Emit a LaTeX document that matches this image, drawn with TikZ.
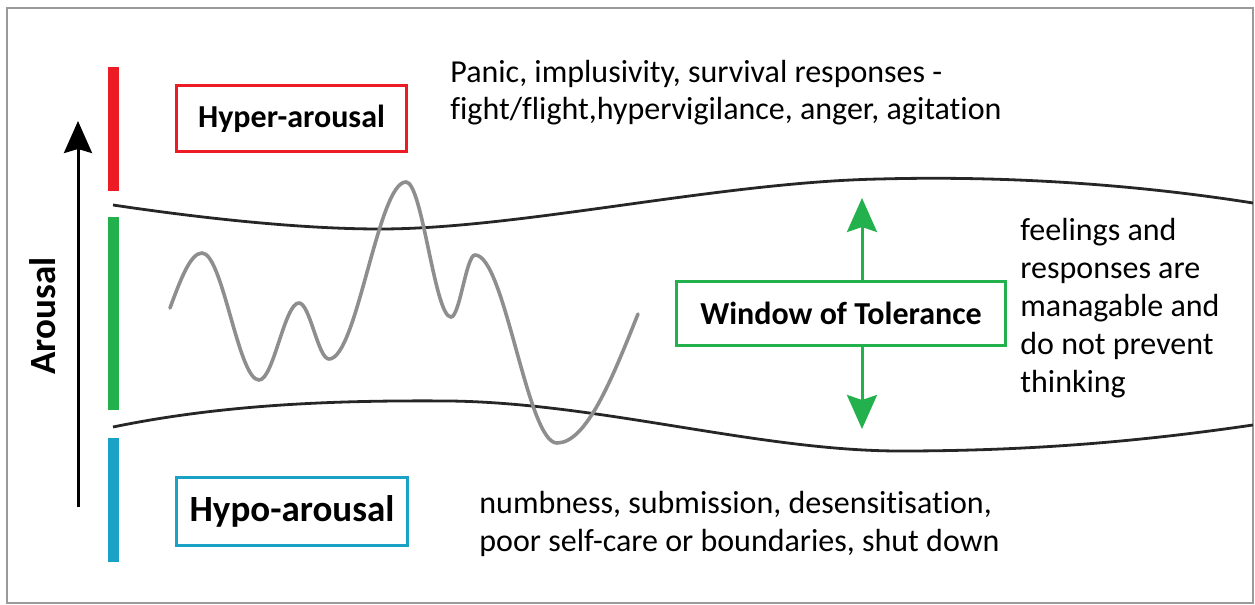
\documentclass[tikz,border=0pt]{standalone}
\usepackage{fontspec}
\setmainfont{Carlito}[Ligatures=NoCommon]
\usetikzlibrary{positioning}
\usetikzlibrary{arrows.meta}
\definecolor{hyperred}{HTML}{ED1C24}
\definecolor{tolgreen}{HTML}{22B14C}
\definecolor{hypoblue}{HTML}{1AA2C6}
\definecolor{wavegray}{HTML}{8E8E8E}
\definecolor{framegray}{HTML}{9A9A9A}
\tikzset{
    labelbox/.style = {draw, line width=1.5pt, inner sep=0pt, align=center, font=\bfseries\fontsize{16}{19}\selectfont, text=black},
    hyperbox/.style = {labelbox, draw=hyperred, minimum width=115pt, minimum height=33pt},
    hypobox/.style = {labelbox, draw=hypoblue, minimum width=115.5pt, minimum height=34pt, font=\bfseries\fontsize{18.5}{22}\selectfont},
    tolbox/.style = {labelbox, draw=tolgreen, minimum width=164.5pt, minimum height=32pt},
    notetext/.style = {anchor=north west, inner sep=0pt, align=left, font=\fontsize{16}{19}\selectfont, text=black},
    levelbar/.style = {line width=5.5pt},
    edgeb/.style = {line width=1.4pt, black!85},
    edgew/.style = {line width=1.8pt, wavegray, line cap=round},
    arrowk/.style = {-{Stealth[length=16pt,width=14pt,inset=2pt]}, line width=1.5pt, black},
    arrowg/.style = {-{Stealth[length=17pt,width=15pt,inset=2.5pt]}, line width=1.5pt, tolgreen},
}

\begin{document}
\begin{tikzpicture}[x=0.5pt, y=-0.5pt]
    \useasboundingbox (0,0) rectangle (1255,605);
    \draw[framegray, line width=1pt] (7,8) rectangle (1253,603);

    % level bars
    \draw[levelbar, hyperred] (113,67) -- (113,191);
    \draw[levelbar, tolgreen] (113,217) -- (113,410);
    \draw[levelbar, hypoblue] (113,438) -- (113,562);

    % arousal axis
    \coordinate (arbase) at (78,507);
    \coordinate (artip) at (78,121);
    \draw[arrowk] (arbase) -- (artip);
    \node[rotate=90, font=\bfseries\fontsize{18.5}{22}\selectfont] (arousal) at (43,316) {Arousal};

    % window boundaries
    \draw[edgeb] (113,205) .. controls (200,218) and (300,229) .. (380,229)
        .. controls (520,229) and (720,182) .. (880,179)
        .. controls (990,176) and (1120,182) .. (1253,203);
    \draw[edgeb] (113,427) .. controls (220,405) and (330,400) .. (450,401)
        .. controls (600,403) and (760,451) .. (900,451)
        .. controls (1040,451) and (1150,440) .. (1253,425);

    % arousal wave
    \draw[edgew] (170,308) sin (202,253) cos (230.5,316.5) sin (259,380)
        cos (279,341.5) sin (299,303) cos (314,331) sin (329,359)
        cos (367.5,270.5) sin (406,182) cos (428.5,249.5) sin (451,317)
        cos (463,286) sin (475,255) cos (516,349) sin (557,443)
        cos (638,314);

    % labels
    \node[hyperbox] (hyper) at (291.5,118.5) {Hyper-arousal};
    \node[hypobox] (hypo) at (292,511.5) {Hypo-arousal};
    \node[tolbox] (tol) at (841,313.5) {Window of Tolerance};

    \coordinate (tolup) at (862,198);
    \coordinate (toldown) at (862,429);
    \draw[arrowg] (tol.north -| tolup) -- (tolup);
    \draw[arrowg] (tol.south -| toldown) -- (toldown);

    % notes
    \node[notetext, font=\fontsize{16}{18.5}\selectfont] (hypernote) at (450,60)
        {Panic, implusivity, survival responses -\\fight/flight,hypervigilance, anger, agitation};
    \node[notetext] (tolnote) at (1020,218)
        {feelings and\\responses are\\managable and\\do not prevent\\thinking};
    \node[notetext] (hyponote) at (479,491)
        {numbness, submission, desensitisation,\\poor self-care or boundaries, shut down};
\end{tikzpicture}
\end{document}
